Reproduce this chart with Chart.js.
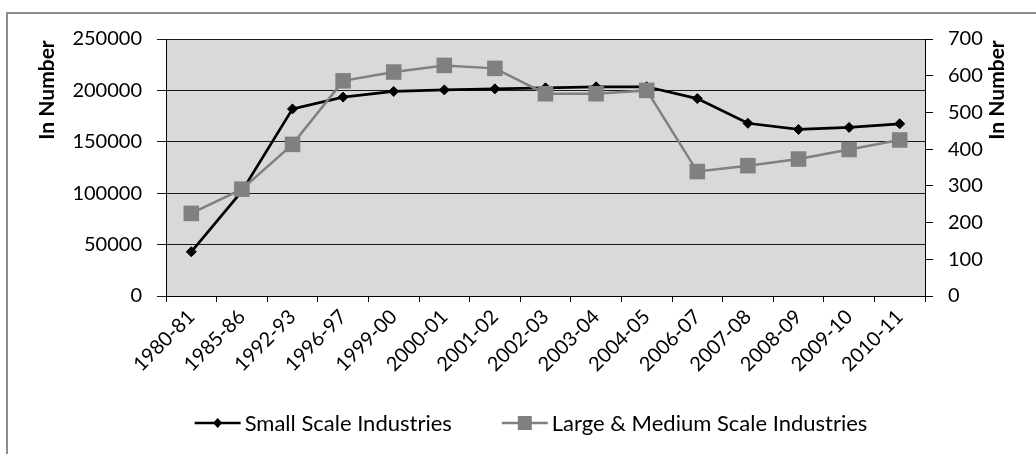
<!DOCTYPE html>
<html>
<head>
<meta charset="utf-8">
<script src="https://cdn.jsdelivr.net/npm/chart.js@4"></script>
<style>
  html, body { margin: 0; padding: 0; background: #fff; }
  #wrap { width: 1036px; height: 454px; }
</style>
</head>
<body>
<div id="wrap"><canvas id="chart" width="1036" height="454"></canvas></div>
<script>
const CATEGORIES = ['1980-81','1985-86','1992-93','1996-97','1999-00','2000-01','2001-02','2002-03','2003-04','2004-05','2006-07','2007-08','2008-09','2009-10','2010-11'];
const SMALL_SCALE = [43000, 102000, 182000, 193500, 199000, 200500, 201500, 202500, 203500, 203500, 192000, 168000, 162000, 164000, 167500];
const LARGE_MEDIUM = [225, 291, 413, 586, 610, 628, 620, 551, 551, 560, 339, 355, 373, 399, 425];
const LEFT_TICKS = { min: 0, max: 250000, step: 50000 };
const RIGHT_TICKS = { min: 0, max: 700, step: 100 };
const AXIS_TITLE = 'In Number';

const FONT = 'Lato';
const DARK = '#000';
const GRAY = '#808080';

// frame, plot background, axis titles, legend
const decor = {
  id: 'decor',
  beforeDraw(chart) {
    const { ctx, chartArea: a } = chart;
    ctx.save();
    ctx.fillStyle = '#fff';
    ctx.fillRect(0, 0, chart.width, chart.height);
    ctx.strokeStyle = '#8c8c8c';
    ctx.lineWidth = 2;
    ctx.beginPath();
    ctx.moveTo(7, chart.height);
    ctx.lineTo(7, 13);
    ctx.lineTo(chart.width, 13);
    ctx.stroke();
    ctx.fillStyle = '#d9d9d9';
    ctx.fillRect(a.left, a.top, a.right - a.left, a.bottom - a.top);
    ctx.restore();
  },
  afterDraw(chart) {
    const { ctx } = chart;
    ctx.save();
    // axis titles
    ctx.font = 'bold 21px ' + FONT;
    ctx.fillStyle = DARK;
    ctx.textAlign = 'center';
    ctx.textBaseline = 'middle';
    [[47, 90], [997, 90]].forEach(([x, y]) => {
      ctx.save();
      ctx.translate(x, y);
      ctx.rotate(-Math.PI / 2);
      ctx.fillText(AXIS_TITLE, 0, 0);
      ctx.restore();
    });

    // legend
    ctx.font = '22px ' + FONT;
    ctx.textAlign = 'left';
    const ds = chart.data.datasets;
    const lineW = 46, gap = 4, between = 50;
    const widths = ds.map(d => lineW + gap + ctx.measureText(d.label).width);
    const total = widths.reduce((s, w) => s + w, 0) + between * (ds.length - 1);
    let x = 531 - total / 2;
    const y = 423;
    ds.forEach((d, i) => {
      ctx.strokeStyle = d.borderColor;
      ctx.lineWidth = 2.5;
      ctx.beginPath();
      ctx.moveTo(x, y);
      ctx.lineTo(x + lineW, y);
      ctx.stroke();
      const cx = x + lineW / 2;
      ctx.fillStyle = d.pointBackgroundColor;
      ctx.beginPath();
      if (d.pointStyle === 'rectRot') {
        ctx.moveTo(cx, y - 5); ctx.lineTo(cx + 4.5, y); ctx.lineTo(cx, y + 5); ctx.lineTo(cx - 4.5, y);
      } else {
        ctx.rect(cx - 7, y - 7, 14, 14);
      }
      ctx.closePath();
      ctx.fill();
      ctx.fillStyle = DARK;
      ctx.fillText(d.label, x + lineW + gap, y + 1);
      x += widths[i] + between;
    });
    ctx.restore();
  }
};

const tickFont = { family: FONT, size: 20 };

new Chart(document.getElementById('chart'), {
  type: 'line',
  data: {
    labels: CATEGORIES,
    datasets: [
      {
        label: 'Small Scale Industries',
        data: SMALL_SCALE,
        yAxisID: 'y',
        borderColor: DARK,
        backgroundColor: DARK,
        pointBackgroundColor: DARK,
        pointBorderColor: DARK,
        borderWidth: 2.7,
        pointStyle: 'rectRot',
        pointRadius: 5,
        pointBorderWidth: 1,
        tension: 0,
        order: 1
      },
      {
        label: 'Large & Medium Scale Industries',
        data: LARGE_MEDIUM,
        yAxisID: 'y1',
        borderColor: GRAY,
        backgroundColor: GRAY,
        pointBackgroundColor: GRAY,
        pointBorderColor: GRAY,
        borderWidth: 2.5,
        pointStyle: 'rect',
        pointRadius: 11,
        pointBorderWidth: 0,
        tension: 0,
        order: 0
      }
    ]
  },
  options: {
    responsive: false,
    animation: false,
    layout: { padding: { top: 39, left: 0, right: 0, bottom: 0 } },
    plugins: { legend: { display: false }, tooltip: { enabled: false } },
    scales: {
      x: {
        type: 'category',
        offset: true,
        grid: { offset: true, drawOnChartArea: false, tickLength: 6, color: DARK },
        border: { color: DARK, width: 1 },
        ticks: { color: DARK, font: tickFont, minRotation: 45, maxRotation: 45, padding: 3, labelOffset: 0, autoSkip: false },
        afterFit(s) { s.height = 158; }
      },
      y: {
        position: 'left',
        min: LEFT_TICKS.min, max: LEFT_TICKS.max,
        grid: { color: '#1a1a1a', tickLength: 9, lineWidth: 1 },
        border: { color: DARK, width: 1 },
        ticks: { stepSize: LEFT_TICKS.step, color: DARK, padding: 15, font: tickFont, callback: v => String(v) },
        afterFit(s) { s.width = 166; }
      },
      y1: {
        position: 'right',
        min: RIGHT_TICKS.min, max: RIGHT_TICKS.max,
        grid: { drawOnChartArea: false, color: DARK, tickLength: 8 },
        border: { color: DARK, width: 1 },
        ticks: { stepSize: RIGHT_TICKS.step, color: DARK, padding: 15, font: tickFont, callback: v => String(v) },
        afterFit(s) { s.width = 111; }
      }
    }
  },
  plugins: [decor]
});
</script>
</body>
</html>
